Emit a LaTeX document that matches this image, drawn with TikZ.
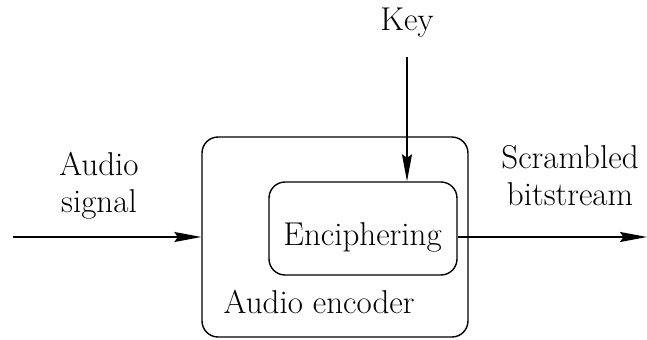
\documentclass[tikz,border=0pt]{standalone}
\usetikzlibrary{arrows.meta,positioning}

\begin{document}
\begin{tikzpicture}[x=0.02cm,y=-0.02cm,->,>={Stealth[length=0.54cm,width=0.2cm,inset=0.07cm]},
line width=0.8pt,font=\fontsize{18.8}{20.8}\selectfont]
\tikzstyle{block}=[draw,rounded corners=0.32cm,inner sep=0pt]
\tikzstyle{lbl}=[align=center,anchor=base,inner sep=0pt]

\useasboundingbox (0,0) rectangle (647,339);

\node[block,minimum width=5.32cm,minimum height=4cm] (encoder) at (335,237) {};
\node[block,minimum width=3.76cm,minimum height=1.86cm] (cipher) at (363,228.5) {};

\node[lbl] (ciphertext) at (362.5,245) {Enciphering};
\node[lbl,anchor=base west] (encodertext) at (223,313) {Audio encoder};
\node[lbl] (key) at (407,30) {Key};
% base anchor sits on the last line
\node[lbl] (signal) at (99,212) {Audio\\signal};
\node[lbl] (stream) at (570,205) {Scrambled\\bitstream};

\coordinate (in) at (13,237);
\coordinate (out) at (647,237);
\coordinate (keyend) at (407,57);

\draw (in) -- (in -| encoder.west);
\draw (cipher.east |- out) -- (out);
\draw (keyend) -- (keyend |- cipher.north);

\end{tikzpicture}
\end{document}
